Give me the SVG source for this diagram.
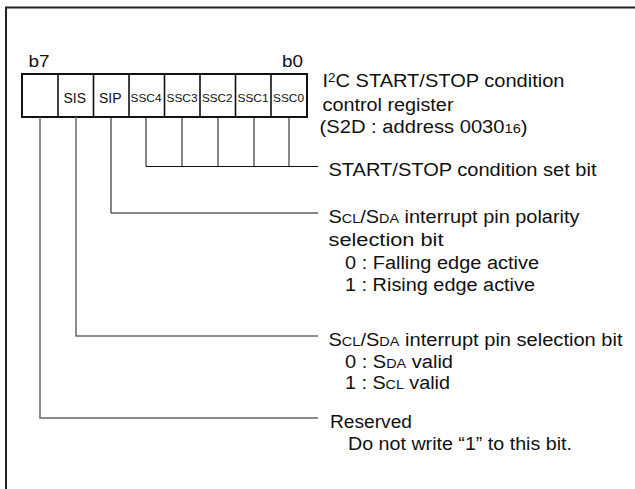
<svg xmlns="http://www.w3.org/2000/svg" width="635" height="489" viewBox="0 0 635 489">
<style>
text{font-family:"Liberation Sans",Arial,Helvetica,sans-serif;fill:#111}
.t{font-size:18px}
.s{font-size:13px}
.sup{font-size:12px}
.bl{font-size:16px}
.bx{font-size:14px}
.bs{font-size:10.5px}
.frame{stroke:#222;stroke-width:2;fill:none}
.cell{fill:#fff;stroke:#111;stroke-width:2}
.div{stroke:#111;stroke-width:1.6}
.ld{stroke:#111;stroke-width:1;fill:none}
.lg{stroke:#666;stroke-width:1.5;fill:none}
</style>
<rect width="635" height="489" fill="#fff"/>
<path class="frame" d="M6 489 V7.5 H635"/>
<g id="register">
<text class="bl" x="28.5" y="66.5" textLength="21" lengthAdjust="spacingAndGlyphs">b7</text>
<text class="bl" x="282" y="66.5" textLength="21" lengthAdjust="spacingAndGlyphs">b0</text>
<rect class="cell" x="22" y="74" width="285" height="43"/>
<line class="div" x1="58" y1="74" x2="58" y2="117"/>
<line class="div" x1="93.5" y1="74" x2="93.5" y2="117"/>
<line class="div" x1="129" y1="74" x2="129" y2="117"/>
<line class="div" x1="164.5" y1="74" x2="164.5" y2="117"/>
<line class="div" x1="200" y1="74" x2="200" y2="117"/>
<line class="div" x1="235.5" y1="74" x2="235.5" y2="117"/>
<line class="div" x1="271" y1="74" x2="271" y2="117"/>
<text class="bx" x="63.5" y="102.5" textLength="22.5" lengthAdjust="spacingAndGlyphs">SIS</text>
<text class="bx" x="99" y="102.5" textLength="22.5" lengthAdjust="spacingAndGlyphs">SIP</text>
<text class="bs" x="130.5" y="102" textLength="31" lengthAdjust="spacingAndGlyphs">SSC4</text>
<text class="bs" x="166.5" y="102" textLength="31" lengthAdjust="spacingAndGlyphs">SSC3</text>
<text class="bs" x="202" y="102" textLength="30.5" lengthAdjust="spacingAndGlyphs">SSC2</text>
<text class="bs" x="237.5" y="102" textLength="31" lengthAdjust="spacingAndGlyphs">SSC1</text>
<text class="bs" x="273" y="102" textLength="31" lengthAdjust="spacingAndGlyphs">SSC0</text>
</g>
<g id="title">
<text class="t" x="322.5" y="87" textLength="242" lengthAdjust="spacingAndGlyphs">I<tspan class="sup" dy="-5">2</tspan><tspan dy="5">C START/STOP condition</tspan></text>
<text class="t" x="322.5" y="111" textLength="131" lengthAdjust="spacingAndGlyphs">control register</text>
<text class="t" x="319.5" y="133" textLength="208" lengthAdjust="spacingAndGlyphs">(S2D : address 0030<tspan class="s">16</tspan>)</text>
</g>
<g id="connectors">
<path class="ld" d="M146 117 V166.5 H318 M182 117 V166.5 M218 117 V166.5 M254 117 V166.5 M289 117 V166.5"/>
<path class="ld" d="M111 117 V213 H318"/>
<path class="lg" d="M76 117 V336 H318"/>
<path class="lg" d="M40 117 V418 H318"/>
</g>
<g id="ssc">
<text class="t" x="328.5" y="176" textLength="268" lengthAdjust="spacingAndGlyphs">START/STOP condition set bit</text>
</g>
<g id="sip">
<text class="t" x="328.5" y="222.5" textLength="251" lengthAdjust="spacingAndGlyphs">S<tspan class="s">CL</tspan>/S<tspan class="s">DA</tspan> interrupt pin polarity</text>
<text class="t" x="328.5" y="246" textLength="115" lengthAdjust="spacingAndGlyphs">selection bit</text>
<text class="t" x="345" y="268.5" textLength="194" lengthAdjust="spacingAndGlyphs">0 : Falling edge active</text>
<text class="t" x="345" y="291" textLength="190" lengthAdjust="spacingAndGlyphs">1 : Rising edge active</text>
</g>
<g id="sis">
<text class="t" x="328.5" y="346" textLength="294" lengthAdjust="spacingAndGlyphs">S<tspan class="s">CL</tspan>/S<tspan class="s">DA</tspan> interrupt pin selection bit</text>
<text class="t" x="345" y="367.5" textLength="108" lengthAdjust="spacingAndGlyphs">0 : S<tspan class="s">DA</tspan> valid</text>
<text class="t" x="345" y="389" textLength="105" lengthAdjust="spacingAndGlyphs">1 : S<tspan class="s">CL</tspan> valid</text>
</g>
<g id="b7">
<text class="t" x="330" y="428" textLength="82" lengthAdjust="spacingAndGlyphs">Reserved</text>
<text class="t" x="348" y="450" textLength="224" lengthAdjust="spacingAndGlyphs">Do not write “1” to this bit.</text>
</g>
</svg>
